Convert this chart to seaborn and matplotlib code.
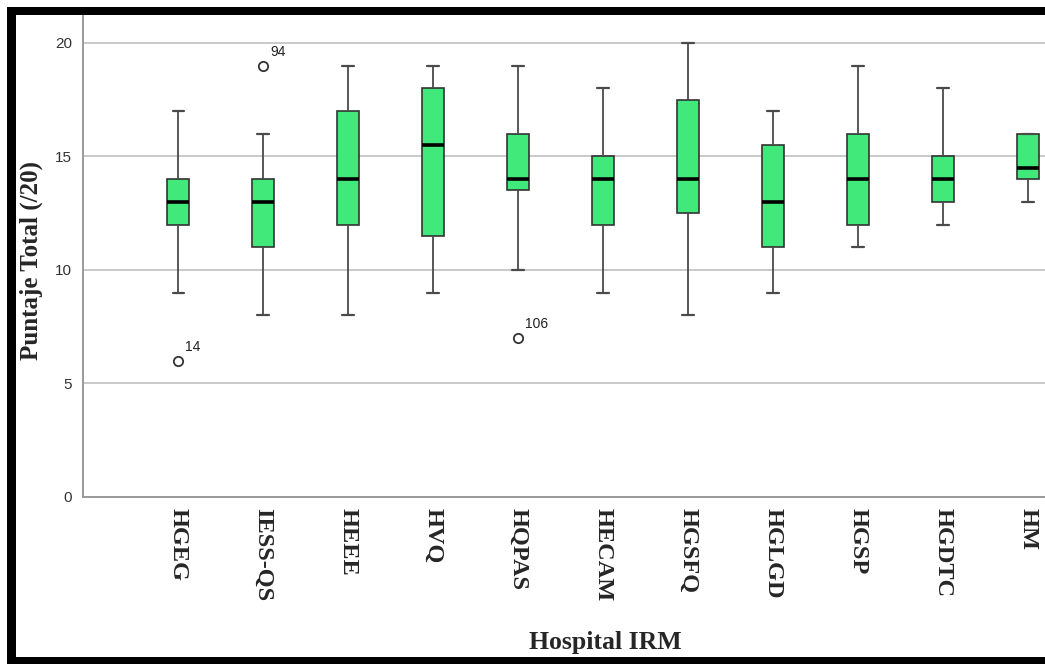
import matplotlib
matplotlib.use("Agg")
import matplotlib.pyplot as plt
from matplotlib.patches import Rectangle
import pandas as pd
import seaborn as sns

# Hospitals on the horizontal axis
hospitals = ["HGEG", "IESS-QS", "HEEE", "HVQ", "HQPAS", "HECAM",
             "HGSFQ", "HGLGD", "HGSP", "HGDTC", "HM"]

# Five-number summary of the total score (/20) per hospital
whisker_low = [9, 8, 8, 9, 10, 9, 8, 9, 11, 12, 13]
quartile_1 = [12, 11, 12, 11.5, 13.5, 12, 12.5, 11, 12, 13, 14]
median = [13, 13, 14, 15.5, 14, 14, 14, 13, 14, 14, 14.5]
quartile_3 = [14, 14, 17, 18, 16, 15, 17.5, 15.5, 16, 15, 16]
whisker_high = [17, 16, 19, 19, 19, 18, 20, 17, 19, 18, 16]

# Atypical cases: hospital, score, case number
outlier_hospital = ["HGEG", "IESS-QS", "HQPAS"]
outlier_score = [6, 19, 7]
outlier_case = ["14", "94", "106"]

# Long-form table holding the summary values of each hospital
rows = []
for h, lo, q1, md, q3, hi in zip(hospitals, whisker_low, quartile_1,
                                 median, quartile_3, whisker_high):
    for v in (lo, q1, md, q3, hi):
        rows.append({"Hospital IRM": h, "Puntaje": v})
scores = pd.DataFrame(rows)
outliers = pd.DataFrame({"Hospital IRM": outlier_hospital,
                         "Puntaje": outlier_score,
                         "Caso": outlier_case})

sns.set_theme(style="white")
plt.rcParams["font.family"] = ["Liberation Sans", "DejaVu Sans"]

fig = plt.figure(figsize=(10.45, 6.64), dpi=100)
ax = fig.add_axes([83 / 1045, 1 - 497 / 664, 1 - 83 / 1045, (497 - 15) / 664])

sns.boxplot(data=scores, x="Hospital IRM", y="Puntaje", order=hospitals,
            whis=(0, 100), width=0.26, color="#41E87A", saturation=1,
            linecolor="#333333", linewidth=1.2, fliersize=0,
            medianprops={"color": "black", "linewidth": 2.6},
            whiskerprops={"color": "#4a4a4a", "linewidth": 1.3},
            capprops={"color": "#4a4a4a", "linewidth": 1.6},
            ax=ax, zorder=3)

sns.scatterplot(data=outliers, x="Hospital IRM", y="Puntaje", ax=ax,
                marker="o", s=45, facecolor="white", edgecolor="#333333",
                linewidth=1.3, zorder=4, legend=False)
for h, v, c in zip(outlier_hospital, outlier_score, outlier_case):
    ax.annotate(c, (hospitals.index(h), v), xytext=(5, 5),
                textcoords="offset points", fontsize=10, color="#222222",
                ha="left", va="bottom")

ax.set_ylim(0, 21.23)
ax.set_xlim(-1.118, 10.2)
ax.set_yticks([0, 5, 10, 15, 20])
ax.yaxis.grid(True, color="#c9c9c9", linewidth=1.4, zorder=0)
ax.xaxis.grid(False)
ax.set_axisbelow(True)

for side in ("top", "right"):
    ax.spines[side].set_visible(False)
for side in ("left", "bottom"):
    ax.spines[side].set_color("#9a9a9a")
    ax.spines[side].set_linewidth(1.4)

ax.tick_params(axis="y", length=0, pad=8, labelsize=11, labelcolor="#333333")
ax.tick_params(axis="x", length=0, pad=8)
for lab in ax.get_xticklabels():
    lab.set_rotation(-90)
    lab.set_family(["Liberation Serif", "DejaVu Serif"])
    lab.set_fontweight("bold")
    lab.set_fontsize(17.5)
    lab.set_va("top")
    lab.set_ha("center")

ax.set_xlabel("Hospital IRM", family=["Liberation Serif", "DejaVu Serif"],
              fontweight="bold", fontsize=18.5, labelpad=6)
ax.set_ylabel("Puntaje Total (/20)", family=["Liberation Serif", "DejaVu Serif"],
              fontweight="bold", fontsize=18, labelpad=14)
ax.xaxis.set_label_coords((605 - 83) / (1045 - 83), -(643 - 497) / (497 - 15))
ax.yaxis.set_label_coords(-(83 - 31) / (1045 - 83), (497 - 260) / (497 - 15))
ax.xaxis.label.set_va("center")
ax.yaxis.label.set_va("center")

# Black frame around the figure
frame = dict(facecolor="black", edgecolor="none", transform=fig.transFigure,
             zorder=10)
W, H = 1045, 664
fig.patches.append(Rectangle((7 / W, 1 - 15 / H), 1 - 7 / W, 8 / H, **frame))
fig.patches.append(Rectangle((7 / W, 0), 9 / W, 1 - 7 / H, **frame))
fig.patches.append(Rectangle((7 / W, 0), 1 - 7 / W, 7 / H, **frame))

fig.savefig("out.png", dpi=100)
